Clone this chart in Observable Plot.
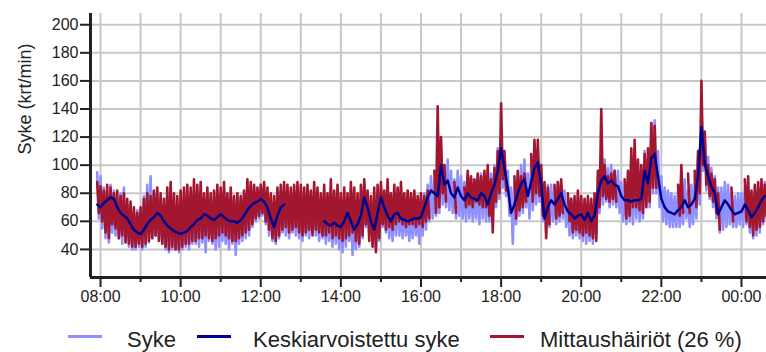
<!DOCTYPE html>
<html>
<head>
<meta charset="utf-8">
<script src="https://cdn.jsdelivr.net/npm/d3@7"></script>
<script src="https://cdn.jsdelivr.net/npm/@observablehq/plot@0.6"></script>
<style>
  body { margin: 0; background: #fff; font-family: "Liberation Sans", Arial, sans-serif; }
  #chart svg { display: block; }
  #legend { position: relative; width: 766px; height: 34px; color: #222; font-size: 22px; }
  #legend .sw { position: absolute; top: 17px; width: 34px; height: 3px; }
  #legend .tx { position: absolute; top: 10px; line-height: 24px; white-space: nowrap; }
</style>
</head>
<body>
<div id="chart"></div>
<div id="legend"></div>
<script>
// ---- data: one slot every 5 minutes, first slot 07:55 ----
const startHour = 7, startMinute = 55, stepMinutes = 5;

// Keskiarvoistettu syke (smoothed heart rate)
const smoothed = [
  72,70,73,75,77,76,70,66,64,62,
  58,54,52,51,54,58,61,63,66,64,
  60,57,55,53,52,51,52,53,56,58,
  61,62,65,64,62,61,63,65,63,61,
  60,60,59,61,64,68,71,73,74,76,
  74,70,62,56,64,70,72,null,null,null,
  null,null,null,null,null,null,null,null,60,58,
  57,59,57,56,60,66,60,54,58,64,
  77,70,60,54,66,77,70,64,60,65,
  66,62,61,60,61,62,62,63,70,77,
  82,80,78,100,86,89,80,77,84,78,
  75,80,77,76,75,80,78,72,80,86,
  96,112,98,84,66,72,80,87,90,78,
  88,98,102,86,62,70,75,72,76,80,
  72,67,65,62,64,65,61,66,60,64,
  80,89,92,87,89,86,85,78,75,75,
  74,75,75,76,96,87,105,108,92,76,
  70,67,66,65,68,70,75,70,72,76,
  92,127,101,92,85,80,65,70,75,72,
  68,65,66,67,72,68,63,66,70,75,
  78
];

// Syke (raw heart rate): high / low within each slot
const sykeHigh = [
  95,92,84,80,86,82,75,80,84,72,
  70,66,68,65,78,86,92,80,76,70,
  68,66,64,66,62,64,70,74,70,78,
  72,80,74,78,76,72,80,74,72,70,
  74,72,70,76,80,84,86,84,82,84,
  80,76,72,70,78,82,80,76,78,74,
  80,76,72,78,74,76,70,72,70,66,
  68,70,72,66,70,74,70,66,72,80,
  86,78,72,66,76,84,78,74,70,74,
  76,70,70,68,70,72,70,74,80,86,
  92,90,96,110,100,104,96,90,96,92,
  88,92,90,88,90,94,90,86,94,100,
  112,118,108,96,84,88,94,100,104,94,
  102,112,110,96,84,86,86,84,88,86,
  82,78,76,74,72,72,72,74,70,76,
  92,100,104,98,100,96,96,88,86,88,
  88,92,90,94,110,104,130,132,110,92,
  84,82,80,78,82,86,90,82,86,92,
  108,140,120,106,98,92,84,84,88,86,
  80,78,80,80,84,80,76,80,84,86,
  88
];
const sykeLow = [
  62,55,48,45,52,50,48,44,46,42,
  40,40,42,40,42,45,48,50,48,44,
  40,38,40,40,38,40,42,40,44,44,
  42,45,38,46,44,40,42,46,44,40,
  44,36,44,46,48,50,56,60,62,64,
  58,50,46,44,48,52,50,48,52,50,
  48,46,50,48,52,50,46,48,44,46,
  42,44,40,38,42,46,36,40,42,48,
  56,50,44,40,46,56,52,48,46,50,
  50,48,50,46,48,50,44,50,54,60,
  62,64,66,72,70,68,66,62,64,62,
  60,62,60,62,58,62,60,60,64,70,
  76,84,78,64,44,58,64,66,70,62,
  68,72,74,60,52,56,60,58,60,62,
  56,50,48,50,48,46,44,46,44,52,
  66,72,74,70,72,70,66,60,58,60,
  58,62,60,62,72,70,80,80,70,60,
  58,56,56,56,56,58,62,56,58,62,
  72,96,82,76,70,62,52,54,56,58,
  56,56,58,56,58,52,48,50,52,58,
  62
];

// Mittaushäiriöt (measurement disturbances): high / low within each slot
const hairioHigh = [
  88,85,82,86,84,80,82,78,80,76,
  74,70,66,70,76,80,78,82,84,80,
  76,84,88,80,78,82,84,86,84,90,
  86,88,80,84,80,82,86,84,88,80,
  84,78,80,78,82,90,88,86,84,86,
  88,84,80,78,84,86,88,86,84,86,
  88,86,84,86,82,88,84,80,86,80,
  90,82,86,80,84,80,88,84,80,86,
  90,82,78,84,86,88,82,90,80,86,
  84,88,80,82,80,82,78,80,78,82,
  null,96,142,120,100,null,null,88,null,null,
  84,96,92,90,94,92,96,100,90,98,
  110,144,110,null,null,92,96,92,94,null,
  108,118,118,100,88,84,null,86,88,90,
  null,80,76,78,82,78,76,78,76,80,
  96,140,100,92,94,96,null,null,90,96,
  112,118,104,100,108,112,130,128,null,null,
  null,null,null,null,86,100,null,94,null,96,
  110,160,124,100,94,90,80,null,null,null,
  84,null,null,null,90,92,82,86,88,90,
  86
];
const hairioLow = [
  66,60,52,48,58,55,48,50,45,44,
  42,42,44,42,44,46,48,50,46,44,
  42,40,42,40,40,42,44,44,46,46,
  48,48,50,48,46,48,50,52,50,48,
  46,46,48,50,52,54,58,62,64,66,
  60,54,48,46,50,54,56,52,54,56,
  52,50,52,54,50,54,52,50,50,52,
  48,50,48,46,48,50,52,46,44,50,
  58,46,42,38,48,58,54,56,54,58,
  60,58,56,58,58,56,58,56,60,62,
  null,66,70,80,74,null,null,66,null,null,
  70,72,70,74,72,70,70,64,52,74,
  80,90,82,null,null,62,68,70,74,null,
  74,80,78,64,48,58,null,62,64,66,
  null,60,52,54,52,50,52,50,48,46,
  70,78,76,74,76,74,null,null,62,64,
  70,70,68,66,70,74,84,84,null,null,
  null,null,null,null,64,66,null,66,null,70,
  80,100,86,78,74,66,54,null,null,null,
  60,null,null,null,60,56,50,54,56,60,
  64
];

const yTicks = [40, 60, 80, 100, 120, 140, 160, 180, 200];
const yDomain = [20, 208];
const yTitle = "Syke (krt/min)";
const legendLabels = ["Syke", "Keskiarvoistettu syke", "Mittaushäiriöt (26 %)"];
const colors = { syke: "#8f8fff", smooth: "#000090", hairio: "#a3162f" };

// ---- build ----
const t0 = Date.UTC(2024, 0, 1, startHour, startMinute);
const slotTime = (i, half) => new Date(t0 + (i * stepMinutes + half * stepMinutes / 2) * 60000);
function zig(hi, lo) {
  const pts = [];
  hi.forEach((h, i) => {
    pts.push({ t: slotTime(i, 0), v: h });
    pts.push({ t: slotTime(i, 1), v: lo[i] });
  });
  return pts;
}
const sykePts = zig(sykeHigh, sykeLow);
const hairioPts = zig(hairioHigh, hairioLow);
const smoothPts = smoothed.map((v, i) => ({ t: slotTime(i, 0), v }));

const xDomain = [new Date(Date.UTC(2024, 0, 1, 7, 45)), new Date(Date.UTC(2024, 0, 2, 0, 37, 30))];
const hours = d3.range(8, 25).map(h => new Date(Date.UTC(2024, 0, 1, h)));
const evenHours = hours.filter((d, i) => i % 2 === 0);
const oddHours = hours.filter((d, i) => i % 2 === 1);

const chart = Plot.plot({
  width: 766,
  height: 318,
  marginLeft: 90,
  marginRight: 0,
  marginTop: 13,
  marginBottom: 41,
  style: { fontFamily: "'Liberation Sans', Arial, sans-serif", background: "#fff" },
  x: { type: "utc", domain: xDomain },
  y: { domain: yDomain },
  marks: [
    Plot.ruleY(yTicks, { stroke: "#c8c8c8", strokeWidth: 2 }),
    Plot.ruleX(hours, { stroke: "#c8c8c8", strokeWidth: 2 }),
    Plot.line(sykePts, { x: "t", y: "v", stroke: colors.syke, strokeWidth: 2.6 }),
    Plot.line(hairioPts, { x: "t", y: "v", stroke: colors.hairio, strokeWidth: 2.6 }),
    Plot.line(smoothPts, { x: "t", y: "v", stroke: colors.smooth, strokeWidth: 2.5 }),
    Plot.ruleX([xDomain[0]], { stroke: "#222", strokeWidth: 3 }),
    Plot.ruleY([yDomain[0]], { stroke: "#222", strokeWidth: 3 }),
    Plot.axisY({ ticks: yTicks, tickSize: 10, tickPadding: 2, fontSize: 16, label: null, color: "#222", strokeWidth: 2 }),
    Plot.axisX({ ticks: evenHours, tickSize: 10, tickPadding: 3, fontSize: 16, label: null, color: "#222", strokeWidth: 2, tickFormat: d3.utcFormat("%H:%M") }),
    Plot.axisX({ ticks: oddHours, tickSize: 5, label: null, color: "#222", strokeWidth: 2, tickFormat: () => "" }),
    Plot.text([yTitle], { frameAnchor: "left", dx: -65, dy: 9, rotate: -90, fontSize: 18, fill: "#222" })
  ]
});
document.getElementById("chart").appendChild(chart);

// ---- legend ----
const legend = document.getElementById("legend");
const items = [
  { sw: 68, tx: 127, color: colors.syke, label: legendLabels[0] },
  { sw: 197, tx: 253, color: colors.smooth, label: legendLabels[1] },
  { sw: 490, tx: 540, color: colors.hairio, label: legendLabels[2] }
];
for (const it of items) {
  const s = document.createElement("div");
  s.className = "sw"; s.style.left = it.sw + "px"; s.style.background = it.color;
  legend.appendChild(s);
  const t = document.createElement("div");
  t.className = "tx"; t.style.left = it.tx + "px"; t.textContent = it.label;
  legend.appendChild(t);
}
</script>
</body>
</html>
